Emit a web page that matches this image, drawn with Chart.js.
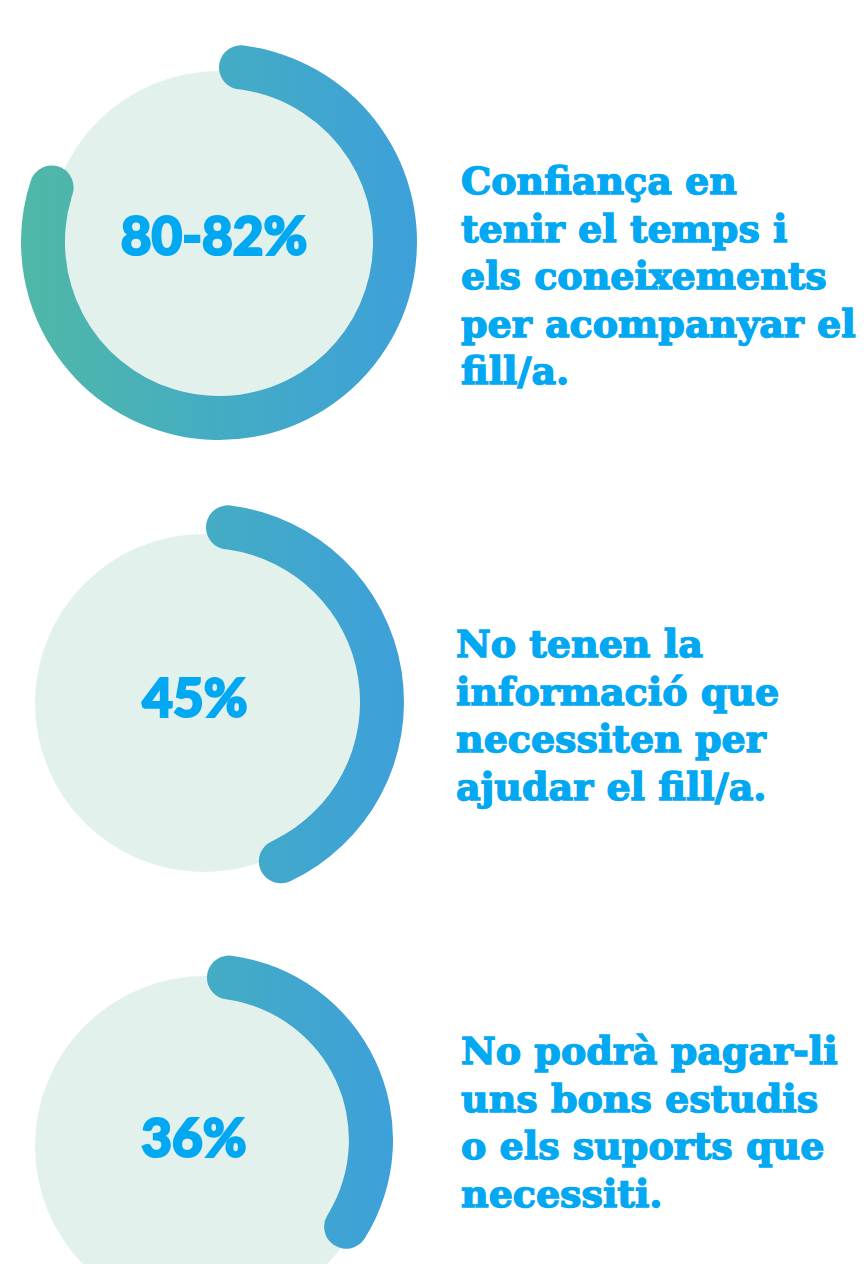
<!DOCTYPE html>
<html>
<head>
<meta charset="utf-8">
<script src="https://cdn.jsdelivr.net/npm/chart.js@4.4.1/dist/chart.umd.min.js"></script>
<style>
  html, body { margin: 0; padding: 0; background: #ffffff; }
  body { width: 867px; height: 1264px; position: relative; overflow: hidden; }
  .ring { position: absolute; }
  .pct { position: absolute; width: 300px; text-align: center; font-family: Lato, "Open Sans", Roboto, sans-serif;
         font-weight: 900; font-size: 53px; line-height: 53px; color: #02a8f1; -webkit-text-stroke: 2.2px #02a8f1; }
  .cap { position: absolute; font-family: "DejaVu Serif", serif; font-weight: bold; font-size: 38px;
         line-height: 47.5px; color: #02a8f1; white-space: nowrap; letter-spacing: 0px; -webkit-text-stroke: 1.4px #02a8f1; }
</style>
</head>
<body>
<script>
// ---- data ----
const pctLabels = ['80-82%', '45%', '36%'];
const values = [82, 45, 36];
const captions = [
  ['Confiança en', 'tenir el temps i', 'els coneixements', 'per acompanyar el', 'fill/a.'],
  ['No tenen la', 'informació que', 'necessiten per', 'ajudar el fill/a.'],
  ['No podrà pagar-li', 'uns bons estudis', 'o els suports que', 'necessiti.']
];

// ---- layout (positions / sizes only) ----
const ringBox = [ {x: 21, y: 44, size: 396, cut: '77.8%'},
                  {x: 8,  y: 504, size: 396, cut: '77.8%'},
                  {x: 21, y: 954, size: 372, cut: '76.3%'} ];
const discStyle = [ {r: 171, dx: 0, dy: 0}, {r: 169, dx: -2, dy: 1}, {r: 170, dx: -2, dy: 6} ];
const pctPos  = [ {cx: 214, cy: 238}, {cx: 195, cy: 700}, {cx: 194, cy: 1140} ];
const capPos  = [ {x: 461, y: 157}, {x: 456, y: 620}, {x: 461, y: 1027} ];

const lightDisc = {
  id: 'lightDisc',
  beforeDatasetsDraw(chart, args, opts) {
    const arc = chart.getDatasetMeta(0).data[0];
    if (!arc) return;
    const ctx = chart.ctx;
    ctx.save();
    ctx.beginPath();
    ctx.arc(arc.x + (opts.dx || 0), arc.y + (opts.dy || 0), opts.r || arc.innerRadius, 0, Math.PI * 2);
    ctx.fillStyle = '#e2f1ec';
    ctx.fill();
    ctx.restore();
  }
};

function ringColor(context) {
  if (context.dataIndex !== 0) return 'rgba(0,0,0,0)';
  const chart = context.chart;
  const area = chart.chartArea;
  if (!area) return '#45aec4';
  const g = chart.ctx.createLinearGradient(area.left, 0, area.right, 0);
  g.addColorStop(0, '#50b8a6');
  g.addColorStop(0.5, '#44acc3');
  g.addColorStop(1, '#3da0da');
  return g;
}

values.forEach((v, i) => {
  const b = ringBox[i];
  const wrap = document.createElement('div');
  wrap.className = 'ring';
  wrap.style.left = b.x + 'px';
  wrap.style.top = b.y + 'px';
  wrap.style.width = b.size + 'px';
  wrap.style.height = b.size + 'px';
  const cv = document.createElement('canvas');
  wrap.appendChild(cv);
  document.body.appendChild(wrap);

  new Chart(cv, {
    type: 'doughnut',
    data: {
      labels: ['valor', 'resta'],
      datasets: [{
        data: [v, 100 - v],
        backgroundColor: ringColor,
        borderWidth: 0,
        borderRadius: (c) => c.dataIndex === 0 ? 22 : 0
      }]
    },
    options: {
      responsive: true,
      maintainAspectRatio: false,
      animation: false,
      cutout: b.cut,
      rotation: 0,
      layout: { padding: 0 },
      plugins: { legend: { display: false }, tooltip: { enabled: false }, lightDisc: discStyle[i] },
      events: []
    },
    plugins: [lightDisc]
  });

  const p = document.createElement('div');
  p.className = 'pct';
  p.textContent = pctLabels[i];
  p.style.left = (pctPos[i].cx - 150) + 'px';
  p.style.top = (pctPos[i].cy - 30) + 'px';
  document.body.appendChild(p);

  const c = document.createElement('div');
  c.className = 'cap';
  c.style.left = capPos[i].x + 'px';
  c.style.top = capPos[i].y + 'px';
  c.innerHTML = captions[i].map(s => '<div>' + s + '</div>').join('');
  document.body.appendChild(c);
});
</script>
</body>
</html>
